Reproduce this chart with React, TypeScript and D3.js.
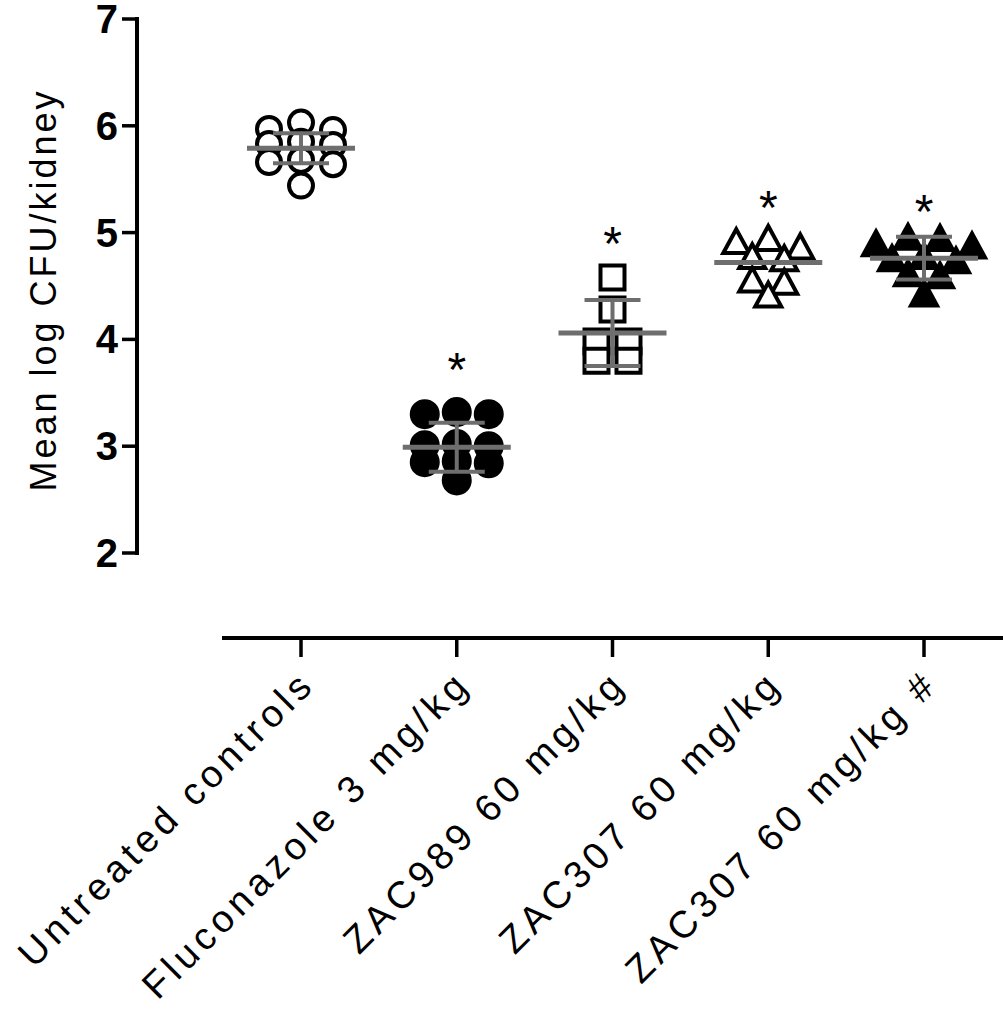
import React from 'react'
import * as d3 from 'd3'

// groups on the x axis
const groups = [
  'Untreated controls',
  'Fluconazole 3 mg/kg',
  'ZAC989 60 mg/kg',
  'ZAC307 60 mg/kg',
  'ZAC307 60 mg/kg #'
]

// log CFU per kidney, one value per animal
const untreated = [6.03, 5.97, 5.96, 5.85, 5.83, 5.82, 5.68, 5.66, 5.64, 5.44]
const fluconazole = [3.32, 3.3, 3.3, 3.02, 3.01, 3.0, 2.86, 2.85, 2.84, 2.68]
const zac989 = [4.58, 4.28, 3.98, 3.98, 3.8, 3.8]
const zac307 = [4.95, 4.92, 4.87, 4.78, 4.76, 4.56, 4.54, 4.42]
const zac307b = [4.96, 4.95, 4.9, 4.88, 4.78, 4.76, 4.74, 4.62, 4.6, 4.43]

// mean and SD bars
const means = [5.79, 2.99, 4.06, 4.72, 4.76]
const sds = [0.14, 0.23, 0.31, null, 0.2]

// significance marks
const stars = ['', '*', '*', '*', '*']
const starLevel = [null, 3.82, 5.0, 5.33, 5.3]

const yTicks = [2, 3, 4, 5, 6, 7]

const allValues = [untreated, fluconazole, zac989, zac307, zac307b]

// marker shapes
const triangle = {
  draw(ctx, size) {
    const w = Math.sqrt(size)
    const h = w * 0.92
    ctx.moveTo(0, -h / 2)
    ctx.lineTo(w / 2, h / 2)
    ctx.lineTo(-w / 2, h / 2)
    ctx.closePath()
  }
}
const markers = [
  { type: d3.symbolCircle, size: Math.PI * 12 * 12, fill: 'white' },
  { type: d3.symbolCircle, size: Math.PI * 13 * 13, fill: 'black' },
  { type: d3.symbolSquare, size: 24 * 24, fill: 'white' },
  { type: triangle, size: 26 * 26, fill: 'white' },
  { type: triangle, size: 26 * 26, fill: 'black' }
]

// scatter-dot-plot spreading: values close together go into one row,
// and a row is laid out side by side around the column centre
function slot(k, n) {
  if (n % 2) return k === 0 ? 0 : (k % 2 ? -1 : 1) * Math.ceil(k / 2)
  return (k % 2 ? 1 : -1) * (Math.floor(k / 2) + 0.5)
}
function spread(vals, tol, step) {
  const xs = new Array(vals.length)
  const order = vals.map((v, i) => i).sort((a, b) => vals[b] - vals[a])
  let row = []
  const flush = () => {
    row.forEach((idx, k) => (xs[idx] = slot(k, row.length) * step))
    row = []
  }
  for (const i of order) {
    if (row.length && vals[row[0]] - vals[i] > tol + 1e-9) flush()
    row.push(i)
  }
  flush()
  return xs
}

export default function App() {
  const width = 1003
  const height = 1010

  const y = d3.scaleLinear().domain([2, 7]).range([553, 19])
  const x = d3.scalePoint().domain(groups).range([301, 924])

  const font = 'Liberation Sans, Arial, sans-serif'
  const gray = '#6e6e6e'

  return (
    <div style={{ position: 'absolute', left: 0, top: 0 }}>
      <svg width={width} height={height} style={{ display: 'block', background: '#fff' }}>
        {/* y axis */}
        <line x1={137} x2={137} y1={y(7) - 2} y2={y(2) + 2} stroke="black" strokeWidth={4} />
        {yTicks.map(t => (
          <g key={t}>
            <line x1={122} x2={137} y1={y(t)} y2={y(t)} stroke="black" strokeWidth={3.5} />
            <text
              x={118}
              y={y(t) + 14}
              textAnchor="end"
              fontFamily={font}
              fontWeight="bold"
              fontSize={40}
            >
              {t}
            </text>
          </g>
        ))}
        <text
          transform={`translate(56, 290) rotate(-90)`}
          textAnchor="middle"
          fontFamily={font}
          fontSize={36}
          letterSpacing={3}
        >
          Mean log CFU/kidney
        </text>

        {/* x axis */}
        <line x1={222} x2={width} y1={638} y2={638} stroke="black" strokeWidth={4} />
        {groups.map(g => (
          <g key={g}>
            <line x1={x(g)} x2={x(g)} y1={638} y2={657} stroke="black" strokeWidth={3.5} />
            <text
              transform={`translate(${x(g) + 16}, 686) rotate(-45)`}
              textAnchor="end"
              fontFamily={font}
              fontSize={38}
              letterSpacing={5}
            >
              {g}
            </text>
          </g>
        ))}

        {/* points */}
        {allValues.map((vals, gi) => {
          const cx = x(groups[gi])
          const offs = spread(vals, 0.1, 32)
          const m = markers[gi]
          const path = d3.symbol().type(m.type).size(m.size)()
          return (
            <g key={gi}>
              {vals.map((v, i) => (
                <path
                  key={i}
                  d={path}
                  transform={`translate(${cx + offs[i]}, ${y(v)})`}
                  fill={m.fill}
                  stroke="black"
                  strokeWidth={4}
                  strokeLinejoin="miter"
                />
              ))}
            </g>
          )
        })}

        {/* mean and SD */}
        {groups.map((g, gi) => {
          const cx = x(g)
          const sd = sds[gi]
          return (
            <g key={g} stroke={gray}>
              {sd != null && (
                <>
                  <line x1={cx} x2={cx} y1={y(means[gi] + sd)} y2={y(means[gi] - sd)} strokeWidth={4} />
                  <line x1={cx - 28} x2={cx + 28} y1={y(means[gi] + sd)} y2={y(means[gi] + sd)} strokeWidth={4} />
                  <line x1={cx - 28} x2={cx + 28} y1={y(means[gi] - sd)} y2={y(means[gi] - sd)} strokeWidth={4} />
                </>
              )}
              <line x1={cx - 54} x2={cx + 54} y1={y(means[gi])} y2={y(means[gi])} strokeWidth={5} />
            </g>
          )
        })}

        {/* asterisks */}
        {groups.map((g, gi) =>
          stars[gi] ? (
            <text
              key={g}
              x={x(g)}
              y={y(starLevel[gi]) + 27}
              textAnchor="middle"
              fontFamily={font}
              fontSize={48}
            >
              {stars[gi]}
            </text>
          ) : null
        )}
      </svg>
    </div>
  )
}
